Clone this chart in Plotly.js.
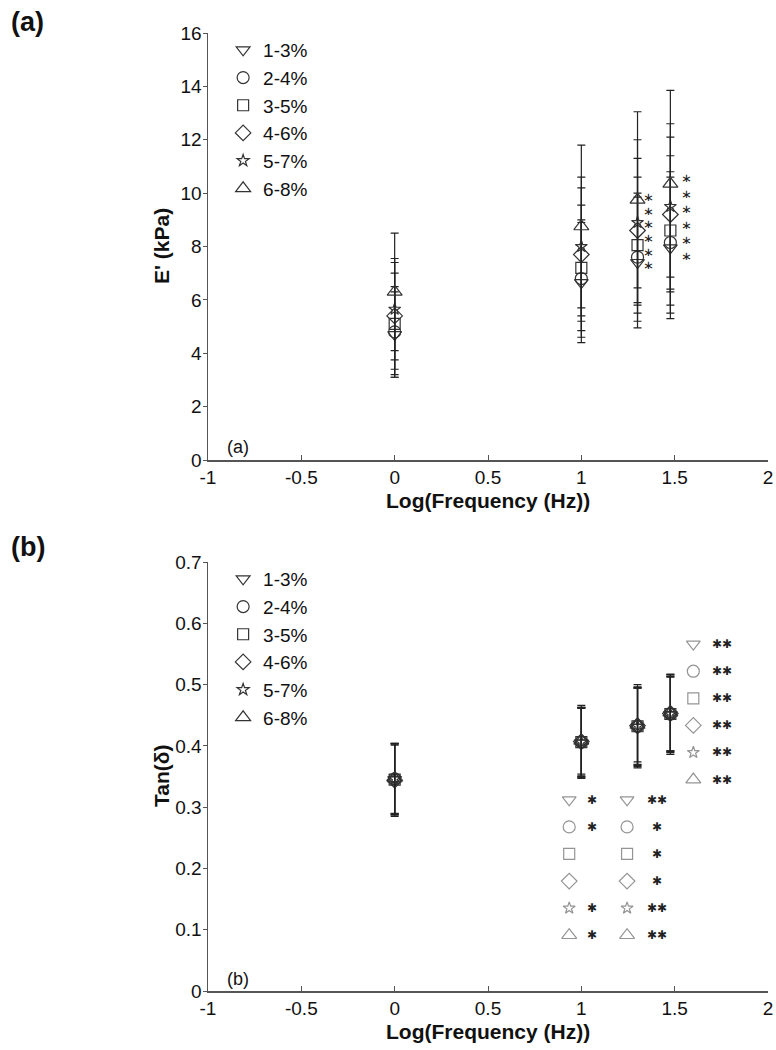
<!DOCTYPE html>
<html>
<head>
<meta charset="utf-8">
<script src="https://cdn.plot.ly/plotly-3.0.1.min.js"></script>
<style>body{margin:0;background:#fff;} #chart{width:776px;height:1050px;}</style>
</head>
<body>
<div id="chart"></div>
<script>
// ---------------- data ----------------
const freqLog = [0, 1, 1.301, 1.477];           // log10(1, 10, 20, 30 Hz)
const strainLabels = ['1-3%', '2-4%', '3-5%', '4-6%', '5-7%', '6-8%'];

// Storage modulus E' (kPa), mean and SD per strain range
const E_1_3 = [4.70, 6.65, 7.40, 7.95];
const E_2_4 = [4.80, 6.80, 7.60, 8.15];
const E_3_5 = [5.10, 7.20, 8.05, 8.60];
const E_4_6 = [5.40, 7.70, 8.60, 9.20];
const E_5_7 = [5.65, 8.00, 8.90, 9.50];
const E_6_8 = [6.30, 8.75, 9.75, 10.35];
const E_1_3_sd = [1.60, 2.25, 2.45, 2.65];
const E_2_4_sd = [1.70, 2.20, 2.40, 2.65];
const E_3_5_sd = [1.90, 2.35, 2.55, 2.80];
const E_4_6_sd = [2.00, 2.50, 2.70, 2.90];
const E_5_7_sd = [1.90, 2.60, 3.10, 3.10];
const E_6_8_sd = [2.20, 3.05, 3.30, 3.50];

// Loss tangent tan(delta), mean and SD per strain range
const T_1_3 = [0.345, 0.405, 0.430, 0.451];
const T_2_4 = [0.346, 0.406, 0.432, 0.452];
const T_3_5 = [0.345, 0.406, 0.432, 0.452];
const T_4_6 = [0.344, 0.407, 0.433, 0.453];
const T_5_7 = [0.346, 0.406, 0.432, 0.452];
const T_6_8 = [0.347, 0.408, 0.434, 0.454];
const T_1_3_sd = [0.058, 0.058, 0.066, 0.065];
const T_2_4_sd = [0.057, 0.056, 0.062, 0.062];
const T_3_5_sd = [0.056, 0.057, 0.064, 0.060];
const T_4_6_sd = [0.059, 0.059, 0.067, 0.064];
const T_5_7_sd = [0.058, 0.055, 0.063, 0.061];
const T_6_8_sd = [0.057, 0.054, 0.060, 0.062];

// significance marks
const sigE_20Hz   = ['*', '*', '*', '*', '*', '*'];
const sigE_30Hz   = ['*', '*', '*', '*', '*', '*'];
const sigTan_10Hz = ['*', '*', '', '', '*', '*'];
const sigTan_20Hz = ['**', '*', '*', '*', '**', '**'];
const sigTan_30Hz = ['**', '**', '**', '**', '**', '**'];

// ---------------- styles ----------------
const FONT = 'Liberation Sans, Arial, sans-serif';
const symbols = ['triangle-down-open', 'circle-open', 'square-open', 'diamond-open', 'star-open', 'triangle-up-open'];
const sizes = [12, 12, 11, 12, 9, 13];
const Emeans = [E_1_3, E_2_4, E_3_5, E_4_6, E_5_7, E_6_8];
const Esds = [E_1_3_sd, E_2_4_sd, E_3_5_sd, E_4_6_sd, E_5_7_sd, E_6_8_sd];
const Tmeans = [T_1_3, T_2_4, T_3_5, T_4_6, T_5_7, T_6_8];
const Tsds = [T_1_3_sd, T_2_4_sd, T_3_5_sd, T_4_6_sd, T_5_7_sd, T_6_8_sd];

const traces = [];
strainLabels.forEach((lab, i) => {
  traces.push({
    type: 'scatter', mode: 'markers', x: freqLog, y: Emeans[i], name: lab,
    xaxis: 'x', yaxis: 'y', legend: 'legend',
    marker: {symbol: symbols[i], size: sizes[i], color: '#333', line: {width: 1.2, color: '#333'}},
    error_y: {type: 'data', array: Esds[i], visible: true, color: '#222', thickness: 1.2, width: 4}
  });
});
strainLabels.forEach((lab, i) => {
  traces.push({
    type: 'scatter', mode: 'markers', x: freqLog, y: Tmeans[i], name: lab,
    xaxis: 'x2', yaxis: 'y2', legend: 'legend2',
    marker: {symbol: symbols[i], size: sizes[i], color: '#333', line: {width: 1.2, color: '#333'}},
    error_y: {type: 'data', array: Tsds[i], visible: true, color: '#222', thickness: 1.2, width: 4}
  });
});

// significance tables in the tan(delta) panel
const tables = [
  {sig: sigTan_10Hz, xs: 0.935, xa: 1.055, y0: 0.312, step: 0.0442},
  {sig: sigTan_20Hz, xs: 1.245, xa: 1.405, y0: 0.312, step: 0.0442},
  {sig: sigTan_30Hz, xs: 1.60, xa: 1.755, y0: 0.566, step: 0.0442}
];
const annotations = [];
tables.forEach(t => {
  const ys = t.sig.map((_, k) => t.y0 - k * t.step);
  traces.push({
    type: 'scatter', mode: 'markers', x: t.sig.map(() => t.xs), y: ys,
    xaxis: 'x2', yaxis: 'y2', showlegend: false, hoverinfo: 'skip',
    marker: {symbol: symbols, size: sizes, color: '#666', line: {width: 1.2, color: '#666'}}
  });
  t.sig.forEach((s, k) => {
    if (!s) return;
    annotations.push({xref: 'x2', yref: 'y2', x: t.xa, y: ys[k], text: s.replace(/\*/g, '✱'),
      showarrow: false, height: 16, font: {family: 'DejaVu Sans', size: 12, color: '#222'}});
  });
});
// significance marks in the E' panel
const eCols = [{sig: sigE_20Hz, x: 1.36, y0: 9.85, step: 0.51}, {sig: sigE_30Hz, x: 1.565, y0: 10.55, step: 0.58}];
eCols.forEach(c => c.sig.forEach((s, k) => {
  annotations.push({xref: 'x', yref: 'y', x: c.x, y: c.y0 - k * c.step, text: s.replace(/\*/g, '∗'),
    showarrow: false, height: 8, borderpad: 0, font: {family: 'DejaVu Sans', size: 13, color: '#222'}});
}));

// geometry helpers (pixel -> paper), plot area from y=33 to y=991
const TOP = 33, BOT = 991, L = 208, W = 560;
const py = p => (BOT - p) / (BOT - TOP);
const px = p => (p - L) / W;

// panel letters, axis titles
const titleFont = {family: FONT, size: 21, color: '#111'};
annotations.push({xref: 'paper', yref: 'paper', x: px(9), y: py(22), xanchor: 'left', yanchor: 'middle', text: '<b>(a)</b>', showarrow: false, font: {family: FONT, size: 27, color: '#111'}});
annotations.push({xref: 'paper', yref: 'paper', x: px(9), y: py(547), xanchor: 'left', yanchor: 'middle', text: '<b>(b)</b>', showarrow: false, font: {family: FONT, size: 27, color: '#111'}});
annotations.push({xref: 'x', yref: 'y', x: -0.91, y: 0.5, xanchor: 'left', yanchor: 'middle', text: '(a)', showarrow: false, font: {family: FONT, size: 18, color: '#111'}});
annotations.push({xref: 'x2', yref: 'y2', x: -0.91, y: 0.02, xanchor: 'left', yanchor: 'middle', text: '(b)', showarrow: false, font: {family: FONT, size: 18, color: '#111'}});
annotations.push({xref: 'paper', yref: 'paper', x: 0.5, y: py(500), yanchor: 'middle', text: '<b>Log(Frequency (Hz))</b>', showarrow: false, font: titleFont});
annotations.push({xref: 'paper', yref: 'paper', x: 0.5, y: py(1031), yanchor: 'middle', text: '<b>Log(Frequency (Hz))</b>', showarrow: false, font: titleFont});
annotations.push({xref: 'paper', yref: 'paper', x: px(161), y: py(246), xanchor: 'center', yanchor: 'middle', textangle: -90, text: "<b>E' (kPa)</b>", showarrow: false, font: titleFont});
annotations.push({xref: 'paper', yref: 'paper', x: px(161), y: py(776), xanchor: 'center', yanchor: 'middle', textangle: -90, text: '<b>Tan(δ)</b>', showarrow: false, font: titleFont});

const xTicks = [-1, -0.5, 0, 0.5, 1, 1.5, 2];
const xTickText = ['-1', '-0.5', '0', '0.5', '1', '1.5', '2'];
const xBase = {
  range: [-1, 2], tickvals: xTicks, ticktext: xTickText, ticks: 'inside', ticklen: 5, tickcolor: '#555',
  showline: true, linecolor: '#555', linewidth: 1.5, showgrid: false, zeroline: false, automargin: false,
  tickfont: {family: FONT, size: 19, color: '#111'}
};
const yBase = {
  ticks: 'outside', ticklen: 4, tickcolor: '#555', showline: true, linecolor: '#555', linewidth: 1.5,
  showgrid: false, zeroline: false, automargin: false, ticklabelstandoff: -3,
  tickfont: {family: FONT, size: 19, color: '#111'}
};
const legBase = {xanchor: 'left', yanchor: 'top', bgcolor: 'rgba(0,0,0,0)', font: {family: FONT, size: 19, color: '#111'}, tracegroupgap: 0};

const layout = {
  width: 776, height: 1050, margin: {l: L, r: 8, t: TOP, b: 1050 - BOT},
  paper_bgcolor: '#fff', plot_bgcolor: '#fff', showlegend: true,
  xaxis: Object.assign({}, xBase, {anchor: 'y'}),
  yaxis: Object.assign({}, yBase, {domain: [py(460), 1], range: [0, 16], dtick: 2, anchor: 'x'}),
  xaxis2: Object.assign({}, xBase, {anchor: 'y2'}),
  yaxis2: Object.assign({}, yBase, {domain: [0, py(562)], range: [0, 0.7], dtick: 0.1, anchor: 'x2'}),
  legend: Object.assign({}, legBase, {x: 0.027, y: py(31)}),
  legend2: Object.assign({}, legBase, {x: 0.027, y: py(560)}),
  annotations: annotations
};
Plotly.newPlot('chart', traces, layout, {displayModeBar: false, staticPlot: true});
</script>
</body>
</html>
